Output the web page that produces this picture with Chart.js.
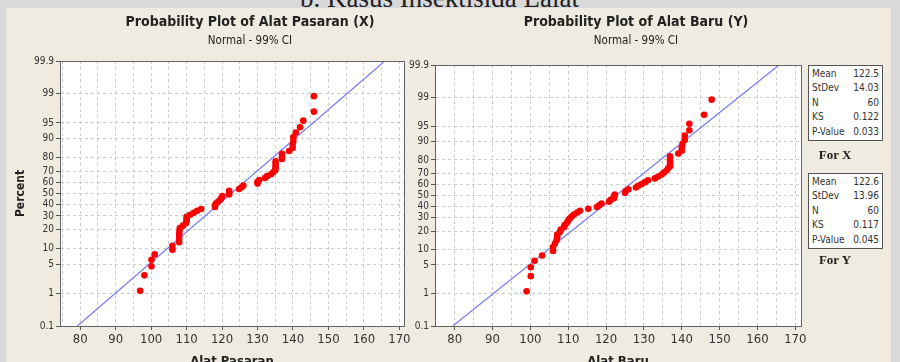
<!DOCTYPE html>
<html lang="id">
<head>
<meta charset="UTF-8">
<title>Probability Plot</title>
<script src="https://cdn.jsdelivr.net/npm/chart.js"></script>
<style>
  body { margin:0; width:900px; height:362px; overflow:hidden; background:#d9d9d9; position:relative;
         font-family:"DejaVu Sans Condensed","DejaVu Sans",sans-serif; color:#222; }
  #heading { position:absolute; left:300px; top:-17px; font:27px "Liberation Serif",serif; color:#222; white-space:nowrap; }
  #panel { position:absolute; left:6px; top:8px; width:885px; height:354px; background:#efebe1; }
  canvas { position:absolute; top:0; }
  .title { position:absolute; top:13px; font-weight:bold; font-size:14px; line-height:17px; white-space:nowrap; transform:translateX(-50%); }
  .sub { position:absolute; top:33px; font-size:11.5px; line-height:14px; white-space:nowrap; transform:translateX(-50%); }
  .stats { position:absolute; left:808px; width:73px; background:#fff; border:1px solid #555; font-size:10px; color:#333; padding:1px 0; }
  .stats div { display:flex; justify-content:space-between; padding:0 3px; line-height:14.4px; }
  .for { position:absolute; left:835px; transform:translateX(-50%); font:bold 13px "Liberation Serif",serif; line-height:16px; white-space:nowrap; }
</style>
</head>
<body>
<div id="heading">b. Kasus Insektisida Lalat</div>
<div id="panel"></div>
<canvas id="chartX" width="420" height="372" style="left:0"></canvas>
<canvas id="chartY" width="420" height="372" style="left:400px"></canvas>
<div class="title" style="left:250px">Probability Plot of Alat Pasaran (X)</div>
<div class="sub" style="left:250px">Normal - 99% CI</div>
<div class="title" style="left:636px">Probability Plot of Alat Baru (Y)</div>
<div class="sub" style="left:636px">Normal - 99% CI</div>
<div class="stats" id="statsX" style="top:65px"></div>
<div class="for" style="top:147px">For X</div>
<div class="stats" id="statsY" style="top:173px"></div>
<div class="for" style="top:252px">For Y</div>

<script>
// plotting positions (percent) of the 60 ranked observations
const percentRank = [1.16, 2.81, 4.47, 6.13, 7.78, 9.44, 11.09, 12.75, 14.40, 16.06,
  17.72, 19.37, 21.03, 22.68, 24.34, 26.00, 27.65, 29.31, 30.96, 32.62,
  34.27, 35.93, 37.58, 39.24, 40.89, 42.55, 44.21, 45.86, 47.52, 49.17,
  50.83, 52.48, 54.14, 55.79, 57.45, 59.11, 60.76, 62.42, 64.07, 65.73,
  67.38, 69.04, 70.69, 72.35, 74.00, 75.66, 77.32, 78.97, 80.63, 82.28,
  83.94, 85.60, 87.25, 88.91, 90.56, 92.22, 93.87, 95.53, 97.19, 98.84];

const alatPasaran = [96.9, 98.1, 100.1, 100.1, 101.0, 106.0, 106.0, 107.9, 107.9, 107.9,
  107.9, 108.0, 108.1, 109.0, 109.8, 110.0, 110.0, 110.0, 111.0, 112.0,
  113.0, 114.1, 118.0, 118.0, 118.3, 118.9, 119.5, 119.8, 120.1, 122.0,
  122.0, 122.0, 124.8, 125.5, 126.0, 130.0, 130.0, 130.5, 132.1, 132.7,
  133.8, 134.4, 135.0, 135.1, 135.1, 135.1, 135.1, 136.9, 136.9, 136.9,
  138.9, 139.9, 139.9, 140.1, 140.1, 140.8, 142.0, 142.9, 145.9, 145.9];

const alatBaru = [99.0, 100.1, 100.1, 101.1, 103.1, 106.0, 106.0, 106.5, 106.9, 107.1,
  107.1, 107.8, 108.0, 108.9, 109.1, 109.7, 110.0, 110.4, 110.9, 111.5,
  112.4, 113.1, 115.3, 117.6, 118.2, 118.8, 120.8, 121.2, 122.1, 122.1,
  122.3, 125.0, 125.2, 125.9, 127.9, 128.5, 129.4, 130.3, 131.1, 132.9,
  133.8, 134.7, 135.3, 136.0, 136.4, 136.9, 136.9, 136.9, 136.9, 136.9,
  139.1, 140.0, 140.0, 140.2, 140.8, 140.8, 142.0, 142.0, 145.9, 147.9];

// fitted normal line, endpoints at 0.1 % and 99.9 %
const linePercent = [0.1, 99.9];
const lineX = [79.2, 165.9];
const lineY = [79.5, 165.7];

const percentTicks = [0.1, 1, 5, 10, 20, 30, 40, 50, 60, 70, 80, 90, 95, 99, 99.9];
const xTickLabels = [80, 90, 100, 110, 120, 130, 140, 150, 160, 170];

const statNames = ['Mean', 'StDev', 'N', 'KS', 'P-Value'];
const statsX = ['122.5', '14.03', '60', '0.122', '0.033'];
const statsY = ['122.6', '13.96', '60', '0.117', '0.045'];

// inverse normal cdf (Acklam), percent -> z
function probit(pct) {
  const p = pct / 100;
  const a = [-39.69683028665376, 220.9460984245205, -275.9285104469687, 138.3577518672690, -30.66479806614716, 2.506628277459239];
  const b = [-54.47609879822406, 161.5858368580409, -155.6989798598866, 66.80131188771972, -13.28068155288572];
  const c = [-0.007784894002430293, -0.3223964580411365, -2.400758277161838, -2.549732539343734, 4.374664141464968, 2.938163982698783];
  const d = [0.007784695709041462, 0.3224671290700398, 2.445134137142996, 3.754408661907416];
  let q, r;
  if (p < 0.02425) {
    q = Math.sqrt(-2 * Math.log(p));
    return (((((c[0]*q+c[1])*q+c[2])*q+c[3])*q+c[4])*q+c[5]) / ((((d[0]*q+d[1])*q+d[2])*q+d[3])*q+1);
  }
  if (p > 1 - 0.02425) {
    q = Math.sqrt(-2 * Math.log(1 - p));
    return -(((((c[0]*q+c[1])*q+c[2])*q+c[3])*q+c[4])*q+c[5]) / ((((d[0]*q+d[1])*q+d[2])*q+d[3])*q+1);
  }
  q = p - 0.5; r = q * q;
  return (((((a[0]*r+a[1])*r+a[2])*r+a[3])*r+a[4])*r+a[5])*q / (((((b[0]*r+b[1])*r+b[2])*r+b[3])*r+b[4])*r+1);
}

function fillStats(id, values) {
  const box = document.getElementById(id);
  statNames.forEach((n, i) => {
    const row = document.createElement('div');
    row.innerHTML = '<span>' + n + '</span><span>' + values[i] + '</span>';
    box.appendChild(row);
  });
}
fillStats('statsX', statsX);
fillStats('statsY', statsY);

const frame = {
  id: 'frame',
  beforeDraw(chart) {
    const a = chart.chartArea, ctx = chart.ctx;
    ctx.save();
    ctx.fillStyle = '#ffffff';
    ctx.fillRect(a.left, a.top, a.right - a.left, a.bottom - a.top);
    ctx.restore();
  },
  afterDraw(chart) {
    const a = chart.chartArea, ctx = chart.ctx;
    ctx.save();
    ctx.strokeStyle = '#666666';
    ctx.lineWidth = 1;
    ctx.strokeRect(Math.round(a.left) + 0.5, Math.round(a.top) + 0.5,
      Math.round(a.right - a.left), Math.round(a.bottom - a.top));
    ctx.restore();
  }
};

const FONT = '"DejaVu Sans Condensed", "DejaVu Sans", sans-serif';

function makeChart(id, xs, linePts, o) {
  new Chart(document.getElementById(id), {
    type: 'scatter',
    data: {
      datasets: [
        {
          data: xs.map((x, i) => ({ x: x, y: probit(percentRank[i]) })),
          backgroundColor: '#ff0000',
          borderWidth: 0,
          pointRadius: 3.3,
          order: 1
        },
        {
          type: 'line',
          data: linePts.map((x, i) => ({ x: x, y: probit(linePercent[i]) })),
          borderColor: '#7878f8',
          borderWidth: 1.2,
          pointRadius: 0,
          order: 2
        }
      ]
    },
    options: {
      responsive: false,
      animation: false,
      events: [],
      layout: { padding: { left: o.padLeft, right: o.padRight, top: o.top, bottom: 0 } },
      plugins: { legend: { display: false }, tooltip: { enabled: false } },
      scales: {
        x: {
          type: 'linear',
          min: o.xmin, max: o.xmax,
          afterBuildTicks: s => {
            const t = [];
            for (let v = 75; v <= 170; v += 5) t.push({ value: v });
            s.ticks = t;
          },
          afterFit: s => { s.height = 46; },
          ticks: {
            autoSkip: false, maxRotation: 0, padding: 2,
            color: '#333', font: { family: FONT, size: 13 },
            callback: v => xTickLabels.includes(v) ? String(v) : ''
          },
          grid: {
            color: '#cccccc', tickLength: 4,
            tickColor: c => (c.tick && c.tick.value % 10 === 0) ? '#555' : 'rgba(0,0,0,0)'
          },
          border: { color: '#666', dash: [3, 3] },
          title: {
            display: true, text: o.xTitle, color: '#222',
            font: { family: FONT, size: 13, weight: 'bold' }, padding: { top: 0, bottom: 3 }
          }
        },
        y: {
          type: 'linear',
          min: probit(0.1), max: probit(99.9),
          afterBuildTicks: s => { s.ticks = percentTicks.map(p => ({ value: probit(p) })); },
          afterFit: s => { s.width = o.yWidth; },
          ticks: {
            autoSkip: false, padding: 2,
            color: '#333', font: { family: FONT, size: 10 },
            callback: (v, i) => String(percentTicks[i])
          },
          grid: { color: '#cccccc', tickLength: 4, tickColor: '#555' },
          border: { color: '#666', dash: [3, 3] },
          title: {
            display: o.yTitle, text: 'Percent', color: '#222',
            font: { family: FONT, size: 12, weight: 'bold' }, padding: { top: 4, bottom: 0 }
          }
        }
      }
    },
    plugins: [frame]
  });
}

makeChart('chartX', alatPasaran, lineX,
  { padLeft: 10, yWidth: 50, padRight: 16, top: 61, xmin: 74.3, xmax: 171.3, xTitle: 'Alat Pasaran', yTitle: true });
makeChart('chartY', alatBaru, lineY,
  { padLeft: 0, yWidth: 35, padRight: 19, top: 65, xmin: 74.8, xmax: 171.5, xTitle: 'Alat Baru', yTitle: false });
</script>
</body>
</html>
